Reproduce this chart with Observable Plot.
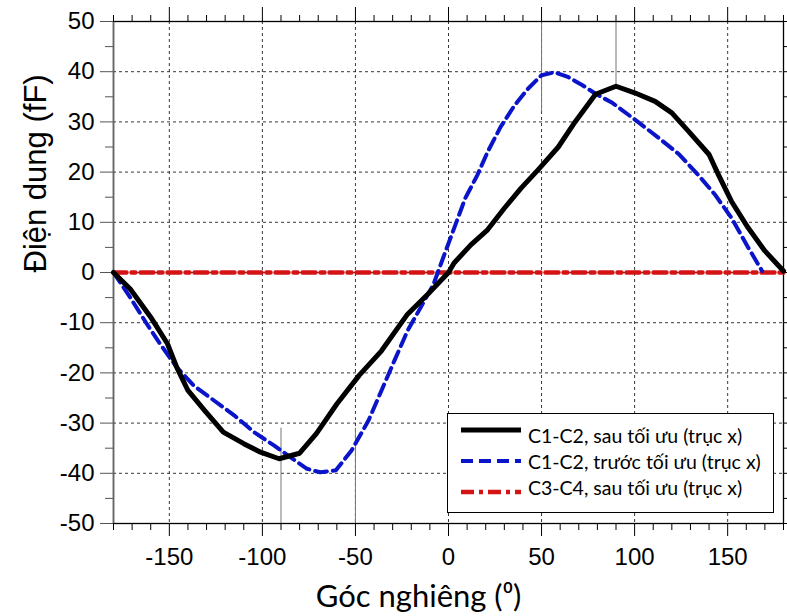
<!DOCTYPE html>
<html>
<head>
<meta charset="utf-8">
<script src="https://cdn.jsdelivr.net/npm/d3@7"></script>
<script src="https://cdn.jsdelivr.net/npm/@observablehq/plot@0.6"></script>
<style>
  html, body { margin: 0; padding: 0; background: #fff; }
  #wrap { position: relative; width: 787px; height: 616px; overflow: hidden; }
  #legend { position: absolute; left: 447px; top: 413px; width: 327px; height: 100px;
            border: 1px solid #000; background: #fff; box-sizing: border-box;
            font-family: Lato, "Open Sans", sans-serif; font-size: 19.5px; color: #000; }
  .row { position: absolute; left: 12px; height: 26px; display: flex; align-items: center; }
  .row svg { margin-right: 6px; }
</style>
</head>
<body>
<div id="wrap"><div id="legend"></div></div>
<script>
// ---- data ----
const xDomain = [-180, 180];
const yDomain = [-50, 50];
const xMajor = [-150, -100, -50, 0, 50, 100, 150];
const xMinor = [-180, -170, -160, -140, -130, -120, -110, -90, -80, -70, -60, -40, -30, -20, -10,
                10, 20, 30, 40, 60, 70, 80, 90, 110, 120, 130, 140, 160, 170, 180];
const yMajor = [-50, -40, -30, -20, -10, 0, 10, 20, 30, 40, 50];
const yMinor = [-45, -35, -25, -15, -5, 5, 15, 25, 35, 45];
const yGrid = [-40, -30, -20, -10, 0, 10, 20, 30, 40];

// C1-C2, sau tối ưu
const sauX = [-180, -171, -160, -151, -146, -140, -131, -121, -110, -101, -91, -80, -71, -60, -48, -36, -22, -11, 0,
              3, 12, 21, 30, 39, 48, 59, 68, 79, 90, 100, 111, 120, 129, 140, 145, 152, 161, 170, 180];
const sauY = [0, -3.3, -8.9, -14.2, -18.9, -23.5, -27.5, -31.8, -34.1, -35.8, -37.1, -36, -32.1, -26.2, -20.5, -15.6, -8.3, -4.3, 0,
              1.9, 5.5, 8.5, 12.8, 16.8, 20.4, 25, 30, 35.5, 37.1, 35.8, 34.1, 31.8, 28.1, 23.5, 19.5, 14.2, 8.9, 4.3, 0.3];
// C1-C2, trước tối ưu
const truocX = [-180, -171, -162, -155, -146, -137, -126, -115, -104.5, -94, -85, -76, -69, -60.5, -52, -43, -36, -29, -22, -15, -8, -3.5,
                3, 9, 15.5, 21, 28, 35.5, 42.7, 50, 57, 64.5, 72, 79, 88, 100, 113, 124, 134, 143, 152, 161, 168.5];
const truocY = [0, -5, -10.3, -14.2, -18.9, -22.5, -25.5, -28.5, -31.8, -34.4, -36.8, -39.1, -39.8, -39.4, -35.4, -29.5, -23.5, -17.5, -11.6, -7, -2.3, 2.3,
                8.8, 14.8, 19.4, 24, 29, 33.3, 36.6, 39.3, 39.9, 38.9, 37.3, 35.6, 33.8, 30.5, 26.8, 23.5, 19.5, 15.6, 10.9, 5, 0.3];
// C3-C4, sau tối ưu
const c34X = [-180, 180];
const c34Y = [0, 0];

// peak marker lines
const markX = [-90, -50, 50, 90];
const markFrom = [-50, -50, 50, 50];
const markTo = [-31, -31, 32, 37.1];

const seriesNames = ["C1-C2, sau tối ưu (trục x)", "C1-C2, trước tối ưu (trục x)", "C3-C4, sau tối ưu (trục x)"];
const seriesColors = ["#000000", "#0a14c8", "#d41414"];
const seriesWidths = [5, 4, 4.5];
const seriesDash = [null, "12,6", "13,5,4,5"];

const xTitle = "Góc nghiêng (⁰)";
const yTitle = "Điện dung (fF)";

const zip = (xs, ys) => xs.map((x, i) => ({x, y: ys[i]}));
const sau = zip(sauX, sauY);
const truoc = zip(truocX, truocY);
const c34 = zip(c34X, c34Y);
const marks = markX.map((x, i) => ({x, y1: markFrom[i], y2: markTo[i]}));
const blank = () => "";
const hyphen = d => String(d);

const chart = Plot.plot({
  width: 787,
  height: 616,
  marginTop: 21,
  marginBottom: 93,
  marginLeft: 113,
  marginRight: 4,
  x: {domain: xDomain},
  y: {domain: yDomain},
  style: {fontFamily: "'Liberation Sans', Arial, sans-serif", fontSize: "24px", color: "#000", background: "#fff", overflow: "visible"},
  marks: [
    Plot.gridX(xMajor, {stroke: "#222", strokeOpacity: 0.9, strokeDasharray: "3,3", strokeWidth: 1}),
    Plot.gridY(yGrid, {stroke: "#222", strokeOpacity: 0.9, strokeDasharray: "3,3", strokeWidth: 1}),
    Plot.ruleX(marks, {x: "x", y1: "y1", y2: "y2", stroke: "#777", strokeWidth: 1}),
    Plot.frame({stroke: "#000", strokeWidth: 1.3}),
    Plot.ruleX([xDomain[0]], {stroke: "#666", strokeWidth: 1.5}),
    // left axis
    Plot.axisY(yMajor, {anchor: "left", tickSize: 13, tickPadding: 6, fontSize: 24, label: null, stroke: "#555", tickFormat: hyphen}),
    Plot.axisY(yMinor, {anchor: "left", tickSize: 8, tickFormat: blank, label: null, stroke: "#555"}),
    // right axis
    Plot.axisY(yMajor, {anchor: "right", tickSize: 6, tickFormat: blank, label: null}),
    Plot.axisY(yMinor, {anchor: "right", tickSize: 6, tickFormat: blank, label: null}),
    // bottom axis
    Plot.axisX(xMajor, {anchor: "bottom", tickSize: 13, tickPadding: 11, fontSize: 24, label: null, tickFormat: hyphen}),
    Plot.axisX(xMinor, {anchor: "bottom", tickSize: 7, tickFormat: blank, label: null}),
    // top axis
    Plot.axisX(xMajor, {anchor: "top", tickSize: 15, tickFormat: blank, label: null}),
    Plot.axisX(xMinor, {anchor: "top", tickSize: 7, tickFormat: blank, label: null}),
    // data lines
    Plot.line(c34, {x: "x", y: "y", stroke: seriesColors[2], strokeWidth: seriesWidths[2], strokeDasharray: seriesDash[2]}),
    Plot.line(truoc, {x: "x", y: "y", stroke: seriesColors[1], strokeWidth: seriesWidths[1], strokeDasharray: seriesDash[1]}),
    Plot.line(sau, {x: "x", y: "y", stroke: seriesColors[0], strokeWidth: seriesWidths[0]}),
    // titles
    Plot.text([xTitle], {frameAnchor: "bottom", dy: 74, dx: -30, lineAnchor: "middle", fontSize: 31, fontFamily: "Lato, 'Open Sans', sans-serif"}),
    Plot.text([yTitle], {frameAnchor: "left", dx: -77, rotate: -90, lineAnchor: "middle", fontSize: 31, fontFamily: "'Liberation Sans', Arial, sans-serif"})
  ]
});
document.getElementById("wrap").prepend(chart);

// legend
const legend = document.getElementById("legend");
const rowTops = [8, 34, 60];
seriesNames.forEach((name, i) => {
  const row = document.createElement("div");
  row.className = "row";
  row.style.top = rowTops[i] + "px";
  const ns = "http://www.w3.org/2000/svg";
  const s = document.createElementNS(ns, "svg");
  s.setAttribute("width", 62); s.setAttribute("height", 26);
  const l = document.createElementNS(ns, "line");
  const ly = 13 + (i === 0 ? -5 : i === 2 ? 5 : 0);
  l.setAttribute("x1", 1); l.setAttribute("x2", 61);
  l.setAttribute("y1", ly); l.setAttribute("y2", ly);
  l.setAttribute("stroke", seriesColors[i]);
  l.setAttribute("stroke-width", seriesWidths[i]);
  if (seriesDash[i]) l.setAttribute("stroke-dasharray", seriesDash[i]);
  s.appendChild(l);
  row.appendChild(s);
  const t = document.createElement("span");
  t.textContent = name;
  row.appendChild(t);
  legend.appendChild(row);
});
</script>
</body>
</html>
